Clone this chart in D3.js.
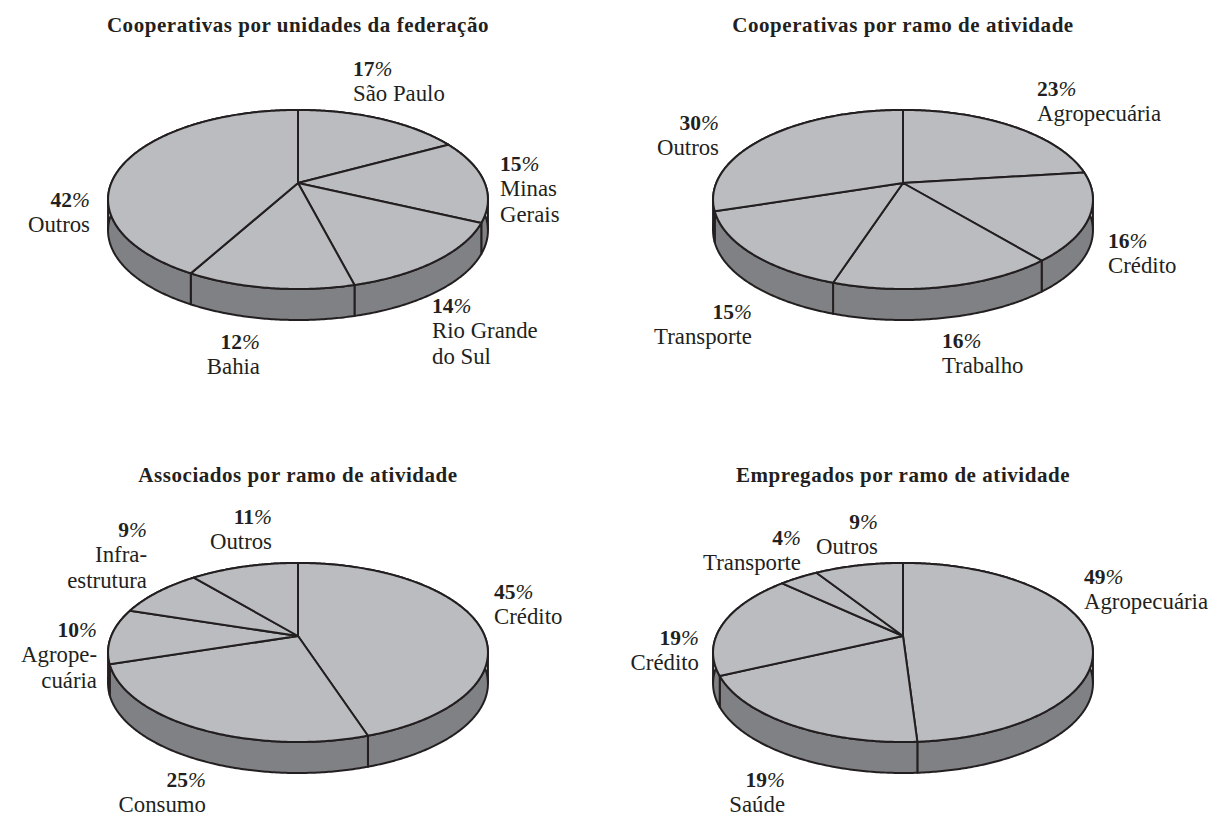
<!DOCTYPE html>
<html>
<head>
<meta charset="utf-8">
<script src="https://d3js.org/d3.v7.min.js"></script>
<style>
body { margin: 0; background: #fff; }
text { font-family: "Liberation Serif", serif; fill: #231f20; }
.title { font-weight: bold; font-size: 21px; letter-spacing: 0.55px; text-anchor: middle; }
.label { font-size: 22.8px; }
.pct { font-weight: bold; font-size: 21.5px; }
.pct-sign { font-style: italic; font-weight: normal; }
</style>
</head>
<body>
<svg width="1211" height="818"></svg>
<script>
// Data
var titles = ['Cooperativas por unidades da federação', 'Cooperativas por ramo de atividade',
	'Associados por ramo de atividade', 'Empregados por ramo de atividade'];
var valuesA = [17, 15, 14, 12, 42],
	valuesB = [23, 16, 16, 15, 30],
	valuesC = [45, 25, 10, 9, 11],
	valuesD = [49, 19, 19, 4, 9];
var namesA = [['São Paulo'], ['Minas', 'Gerais'], ['Rio Grande', 'do Sul'], ['Bahia'], ['Outros']],
	namesB = [['Agropecuária'], ['Crédito'], ['Trabalho'], ['Transporte'], ['Outros']],
	namesC = [['Crédito'], ['Consumo'], ['Agrope-', 'cuária'], ['Infra-', 'estrutura'], ['Outros']],
	namesD = [['Agropecuária'], ['Saúde'], ['Crédito'], ['Transporte'], ['Outros']];

// Layout, kept apart from the data. Label: x, baseline of the % line, anchor.
var layout = [
	{cx: 298, cy: 183, titleX: 298, titleY: 32, labels: [
		[353, 76, 'start'], [500, 171, 'start'], [432, 313, 'start'], [260, 349, 'end'], [90, 207, 'end']]},
	{cx: 903, cy: 183, titleX: 903, titleY: 32, labels: [
		[1037, 96, 'start'], [1108, 248, 'start'], [942, 348, 'start'], [752, 319, 'end'], [719, 130, 'end']]},
	{cx: 298, cy: 636, titleX: 298, titleY: 482, labels: [
		[494, 599, 'start'], [206, 787, 'end'], [97, 637, 'end'], [147, 537, 'end'], [272, 524, 'end']]},
	{cx: 903, cy: 636, titleX: 903, titleY: 482, labels: [
		[1084, 584, 'start'], [785, 787, 'end'], [699, 645, 'end'], [801, 545, 'end'], [878, 529, 'end']]}
];
var allValues = [valuesA, valuesB, valuesC, valuesD],
	allNames = [namesA, namesB, namesC, namesD];

var topColor = '#bbbcbf', sideColor = '#808184', inkColor = '#231f20';
var lineGap = 25.3, depth = 31;

//The disc is seen in perspective, so the centre of the pie sits above the centre of the ellipse.
var k = 0.184, radiusX = 186.7, radiusY = 86.5;
function project(a) {
	var w = 1 + k * Math.cos(a);
	return [radiusX * Math.sin(a) / w, -radiusY * Math.cos(a) / w];
}
//Angle at which the rim reaches its widest x.
var edgeAngle = Math.acos(-k);

var svg = d3.select('svg');
var pie = d3.pie().sort(null);
var line = d3.line();

function rim(a0, a1) {
	var n = Math.max(2, Math.ceil((a1 - a0) / 0.01)), pts = [];
	for (var i = 0; i <= n; ++i) pts.push(project(a0 + (a1 - a0) * i / n));
	return pts;
}

layout.forEach(function(cfg, idx) {
	var arcs = pie(allValues[idx]);
	var g = svg.append('g').attr('transform', 'translate(' + cfg.cx + ',' + cfg.cy + ')');

	//Side wall first, the top faces paint over the parts that are out of sight.
	arcs.forEach(function(d) {
		var upper = rim(d.startAngle, d.endAngle);
		var lower = upper.map(function(p) { return [p[0], p[1] + depth]; }).reverse();
		g.append('path')
			.attr('d', line(upper.concat(lower)) + 'Z')
			.attr('fill', sideColor)
			.attr('stroke', inkColor)
			.attr('stroke-width', 2)
			.attr('stroke-linejoin', 'round');
	});
	[edgeAngle, -edgeAngle].forEach(function(a) {
		var p = project(a);
		g.append('line')
			.attr('x1', p[0]).attr('x2', p[0])
			.attr('y1', p[1]).attr('y2', p[1] + depth)
			.attr('stroke', inkColor)
			.attr('stroke-width', 2);
	});

	arcs.forEach(function(d) {
		g.append('path')
			.attr('d', line([[0, 0]].concat(rim(d.startAngle, d.endAngle))) + 'Z')
			.attr('fill', topColor)
			.attr('stroke', inkColor)
			.attr('stroke-width', 2)
			.attr('stroke-linejoin', 'round');
	});

	svg.append('text')
		.attr('class', 'title')
		.attr('x', cfg.titleX)
		.attr('y', cfg.titleY)
		.text(titles[idx]);

	cfg.labels.forEach(function(pos, i) {
		var t = svg.append('text')
			.attr('class', 'label')
			.attr('text-anchor', pos[2])
			.attr('y', pos[1]);
		var head = t.append('tspan').attr('x', pos[0]).attr('class', 'pct');
		head.append('tspan').text(allValues[idx][i]);
		head.append('tspan').attr('class', 'pct-sign').text('%');
		allNames[idx][i].forEach(function(s, j) {
			t.append('tspan')
				.attr('x', pos[0])
				.attr('y', pos[1] + lineGap * (j + 1))
				.text(s);
		});
	});
});
</script>
</body>
</html>
